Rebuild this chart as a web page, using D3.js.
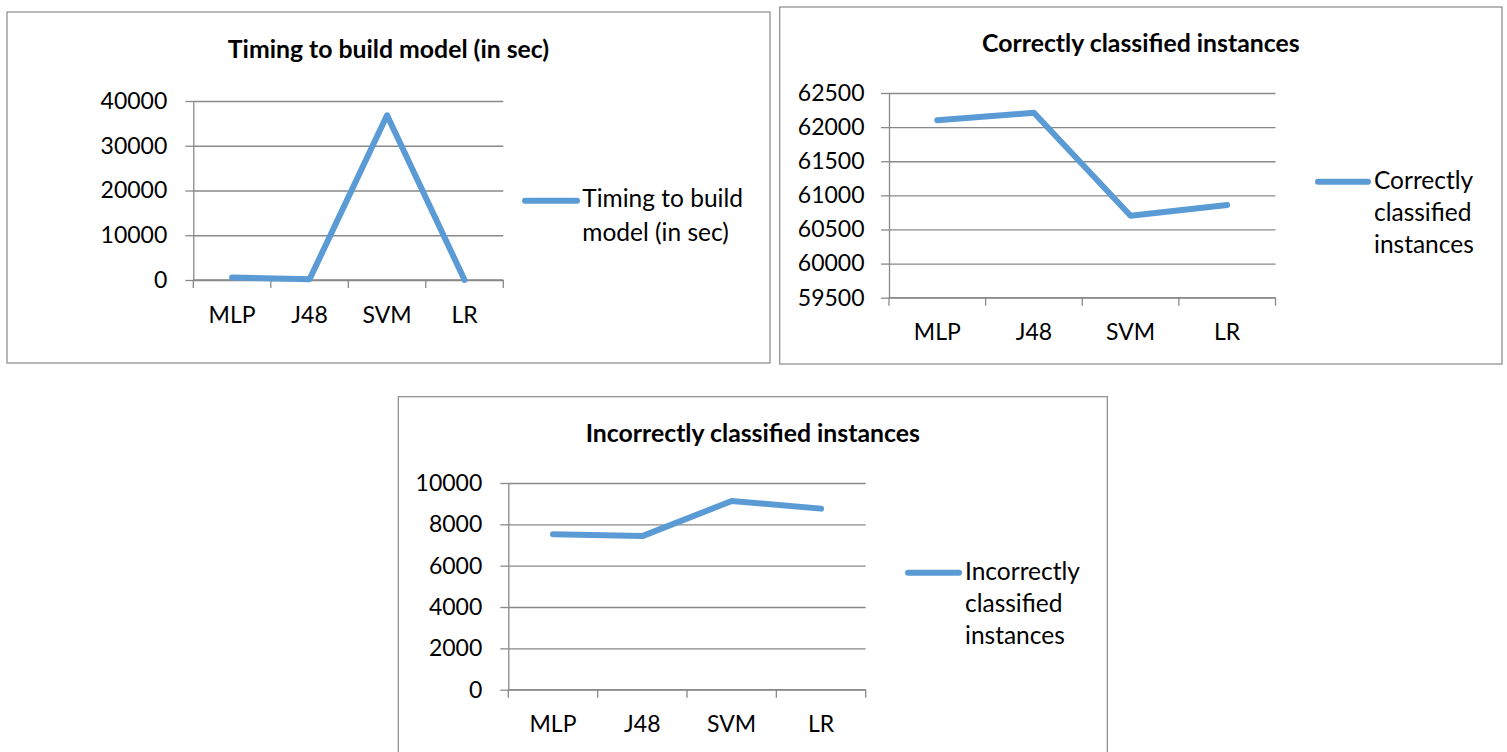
<!DOCTYPE html>
<html>
<head>
<meta charset="utf-8">
<script src="https://cdn.jsdelivr.net/npm/d3@7"></script>
<style>
  html, body { margin: 0; padding: 0; background: #fff; }
  svg { display: block; font-family: Lato, "Open Sans", sans-serif; }
</style>
</head>
<body>
<svg id="chart" width="1507" height="752"></svg>
<script>
// data
const categories = ["MLP", "J48", "SVM", "LR"];

const timingValues = [560, 150, 36800, 10];
const timingTicks = [0, 10000, 20000, 30000, 40000];

const correctValues = [62100, 62210, 60700, 60860];
const correctTicks = [59500, 60000, 60500, 61000, 61500, 62000, 62500];

const incorrectValues = [7520, 7430, 9130, 8760];
const incorrectTicks = [0, 2000, 4000, 6000, 8000, 10000];

const blue = "#5b9bd5";
const gray = "#898989";

const svg = d3.select("#chart");

function drawChart(opt) {
  const g = svg.append("g");

  // outer frame
  g.append("rect")
    .attr("x", opt.box[0]).attr("y", opt.box[1])
    .attr("width", opt.box[2] - opt.box[0]).attr("height", opt.box[3] - opt.box[1])
    .attr("fill", "#fff").attr("stroke", gray).attr("stroke-width", 1.2);

  g.append("text")
    .attr("x", (opt.box[0] + opt.box[2]) / 2).attr("y", opt.titleY)
    .attr("text-anchor", "middle")
    .attr("font-size", 24.8).attr("font-weight", "bold")
    .text(opt.title);

  const x = d3.scaleBand().domain(categories).range([opt.left, opt.right]);
  const y = d3.scaleLinear().domain(d3.extent(opt.ticks)).range([opt.bottom, opt.top]);
  const w = opt.right - opt.left;

  // gridlines
  g.append("g")
    .attr("transform", `translate(${opt.left},0)`)
    .call(d3.axisLeft(y).tickValues(opt.ticks).tickSize(-w).tickFormat(""))
    .call(a => a.select(".domain").remove())
    .call(a => a.selectAll("line").attr("stroke", gray).attr("stroke-width", 1.3));

  // y axis with labels
  g.append("g")
    .attr("transform", `translate(${opt.left},0)`)
    .call(d3.axisLeft(y).tickValues(opt.ticks).tickSize(8).tickSizeOuter(0)
      .tickPadding(opt.yPad).tickFormat(d3.format("d")))
    .call(a => a.select(".domain").attr("stroke", gray).attr("stroke-width", 1.3))
    .call(a => a.selectAll("line").attr("stroke", gray).attr("stroke-width", 1.3))
    .call(a => a.selectAll("text").attr("font-size", 23).attr("fill", "#000")
      .attr("font-family", "Lato, sans-serif"));

  // x axis: ticks at band edges
  const edges = categories.map(c => x(c)).concat([opt.right]);
  g.append("g")
    .selectAll("line").data(edges).join("line")
    .attr("x1", d => d).attr("x2", d => d)
    .attr("y1", opt.bottom).attr("y2", opt.bottom + 8)
    .attr("stroke", gray).attr("stroke-width", 1.3);
  g.append("line")
    .attr("x1", opt.left).attr("x2", opt.right)
    .attr("y1", opt.bottom).attr("y2", opt.bottom)
    .attr("stroke", gray).attr("stroke-width", 1.3);

  g.append("g")
    .selectAll("text").data(categories).join("text")
    .attr("x", d => x(d) + x.bandwidth() / 2)
    .attr("y", opt.labelY)
    .attr("text-anchor", "middle")
    .attr("font-size", 23)
    .text(d => d);

  const line = d3.line()
    .x((d, i) => x(categories[i]) + x.bandwidth() / 2)
    .y(d => y(d));

  g.append("path")
    .datum(opt.values)
    .attr("d", line)
    .attr("fill", "none")
    .attr("stroke", blue)
    .attr("stroke-width", 6)
    .attr("stroke-linejoin", "round")
    .attr("stroke-linecap", "round");

  // legend
  const L = opt.legend;
  g.append("line")
    .attr("x1", L.x1).attr("x2", L.x2).attr("y1", L.y).attr("y2", L.y)
    .attr("stroke", blue).attr("stroke-width", 6).attr("stroke-linecap", "round");
  g.append("g")
    .selectAll("text").data(L.lines).join("text")
    .attr("x", L.tx)
    .attr("y", (d, i) => L.ty + i * L.dy)
    .attr("font-size", 24.5)
    .text(d => d);
}

drawChart({
  title: "Timing to build model (in sec)",
  values: timingValues, ticks: timingTicks,
  box: [7, 12, 770, 363],
  left: 193.3, right: 503.3, top: 101, bottom: 280,
  titleY: 58.3, labelY: 322.7, yPad: 18,
  legend: { x1: 525, x2: 577, y: 200.7, tx: 582.3, ty: 207.3, dy: 33.4,
            lines: ["Timing to build", "model (in sec)"] }
});

drawChart({
  title: "Correctly classified instances",
  values: correctValues, ticks: correctTicks,
  box: [779.7, 7, 1502, 364],
  left: 889, right: 1275.5, top: 93, bottom: 297.7,
  titleY: 51.7, labelY: 340, yPad: 16.5,
  legend: { x1: 1318, x2: 1368, y: 181.7, tx: 1374, ty: 189, dy: 32.2,
            lines: ["Correctly", "classified", "instances"] }
});

drawChart({
  title: "Incorrectly classified instances",
  values: incorrectValues, ticks: incorrectTicks,
  box: [398.3, 396.7, 1107.3, 760],
  left: 508.3, right: 865.7, top: 483, bottom: 689.7,
  titleY: 441.7, labelY: 731.7, yPad: 18,
  legend: { x1: 908, x2: 959, y: 572.7, tx: 965, ty: 580, dy: 32,
            lines: ["Incorrectly", "classified", "instances"] }
});
</script>
</body>
</html>
